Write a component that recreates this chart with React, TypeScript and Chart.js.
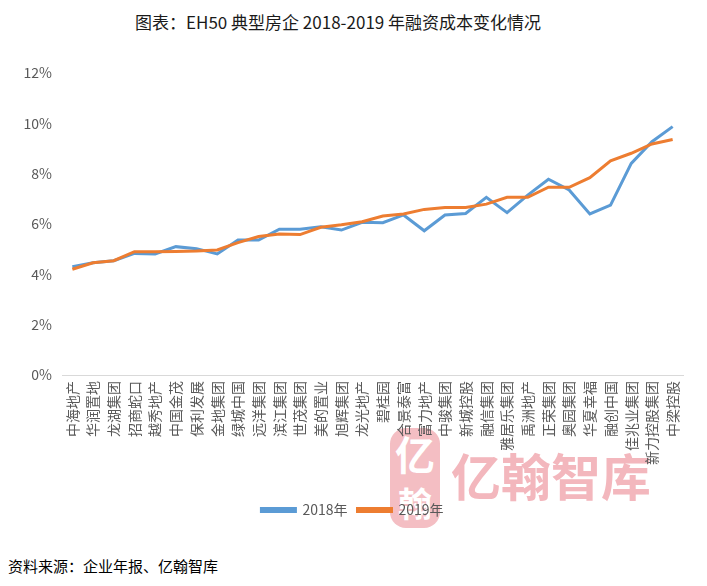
import React, { useEffect, useRef } from "react";
import { Chart, registerables } from "chart.js";

Chart.register(...registerables);

const titleText = "图表：EH50 典型房企 2018-2019 年融资成本变化情况";
const sourceText = "资料来源：企业年报、亿翰智库";
const watermarkText = "亿翰智库";

const categories = [
  "中海地产", "华润置地", "龙湖集团", "招商蛇口", "越秀地产", "中国金茂",
  "保利发展", "金地集团", "绿城中国", "远洋集团", "滨江集团", "世茂集团",
  "美的置业", "旭辉集团", "龙光地产", "碧桂园", "合景泰富", "富力地产",
  "中骏集团", "新城控股", "融信集团", "雅居乐集团", "禹洲地产", "正荣集团",
  "奥园集团", "华夏幸福", "融创中国", "佳兆业集团", "新力控股集团", "中梁控股",
];

const series2018Label = "2018年";
const series2019Label = "2019年";

const values2018 = [
  4.30, 4.46, 4.54, 4.83, 4.81, 5.10, 5.02, 4.81, 5.36, 5.36,
  5.79, 5.79, 5.89, 5.76, 6.07, 6.05, 6.36, 5.73, 6.36, 6.42,
  7.06, 6.45, 7.15, 7.78, 7.35, 6.40, 6.75, 8.41, 9.27, 9.87,
];

const values2019 = [
  4.20, 4.46, 4.54, 4.90, 4.90, 4.91, 4.93, 4.97, 5.26, 5.50,
  5.60, 5.58, 5.87, 5.97, 6.09, 6.32, 6.40, 6.58, 6.66, 6.66,
  6.79, 7.06, 7.06, 7.46, 7.46, 7.84, 8.51, 8.81, 9.18, 9.36,
];

const yMin = 0;
const yMax = 12;
const yStep = 2;

const FONT = '"Noto Sans CJK SC", "Noto Sans", sans-serif';

export default function App() {
  const canvasRef = useRef<HTMLCanvasElement | null>(null);

  useEffect(() => {
    const canvas = canvasRef.current;
    if (!canvas) return;
    const chart = new Chart(canvas, {
      type: "line",
      data: {
        labels: categories,
        datasets: [
          {
            label: series2018Label,
            data: values2018,
            borderColor: "#5B9BD5",
            backgroundColor: "#5B9BD5",
            borderWidth: 3,
            pointRadius: 0,
            tension: 0,
            order: 1,
          },
          {
            label: series2019Label,
            data: values2019,
            borderColor: "#ED7D31",
            backgroundColor: "#ED7D31",
            borderWidth: 3,
            pointRadius: 0,
            tension: 0,
            order: 0,
          },
        ],
      },
      options: {
        responsive: false,
        animation: false,
        devicePixelRatio: 1,
        layout: { padding: { top: 73, left: 22, right: 24, bottom: 3 } },
        plugins: {
          tooltip: { enabled: false },
          title: { display: false },
          legend: {
            display: true,
            position: "bottom",
            labels: {
              boxWidth: 34,
              boxHeight: 3,
              padding: 10,
              color: "#595959",
              font: { family: FONT, size: 14 },
              sort: (a: any, b: any) => a.datasetIndex - b.datasetIndex,
            },
          },
        },
        scales: {
          x: {
            offset: true,
            grid: { display: false, drawTicks: false },
            border: { display: true, color: "#d9d9d9", width: 1 },
            ticks: {
              autoSkip: false,
              minRotation: 90,
              maxRotation: 90,
              padding: 6,
              color: "#595959",
              font: { family: FONT, size: 14 },
            },
            afterFit: (scale: any) => {
              scale.height = 118;
            },
          },
          y: {
            min: yMin,
            max: yMax,
            grid: { display: false, drawTicks: false },
            border: { display: false },
            ticks: {
              stepSize: yStep,
              padding: 10,
              color: "#595959",
              font: { family: FONT, size: 14 },
              callback: (v: any) => `${v}%`,
            },
            afterFit: (scale: any) => {
              scale.width = 40;
            },
          },
        },
      },
    });
    return () => chart.destroy();
  }, []);

  return (
    <div
      style={{
        position: "fixed",
        left: 0,
        top: 0,
        width: 707,
        height: 586,
        background: "#ffffff",
        overflow: "hidden",
        fontFamily: FONT,
      }}
    >
      <div
        style={{
          position: "absolute",
          left: 135,
          top: 10,
          fontSize: 17,
          lineHeight: "24px",
          color: "#1a1a1a",
          whiteSpace: "nowrap",
        }}
      >
        {titleText}
      </div>
      <div
        style={{
          position: "absolute",
          left: 390,
          top: 428,
          width: 50,
          height: 100,
          background: "#f3b7bd",
          borderRadius: 16,
          color: "#ffffff",
          fontSize: 40,
          lineHeight: "50px",
          textAlign: "center",
          fontWeight: 700,
          opacity: 0.9,
        }}
      >
        <div>亿</div>
        <div style={{ fontSize: 34 }}>翰</div>
      </div>
      <div
        style={{
          position: "absolute",
          left: 451,
          top: 444,
          fontSize: 50,
          lineHeight: "60px",
          fontWeight: 700,
          color: "#f3b7bd",
          whiteSpace: "nowrap",
        }}
      >
        {watermarkText}
      </div>
      <canvas
        ref={canvasRef}
        width={707}
        height={530}
        style={{ position: "absolute", left: 0, top: 0, width: 707, height: 530 }}
      />
      <div
        style={{
          position: "absolute",
          left: 8,
          top: 554,
          fontSize: 15,
          lineHeight: "24px",
          color: "#000000",
          whiteSpace: "nowrap",
        }}
      >
        {sourceText}
      </div>
    </div>
  );
}
